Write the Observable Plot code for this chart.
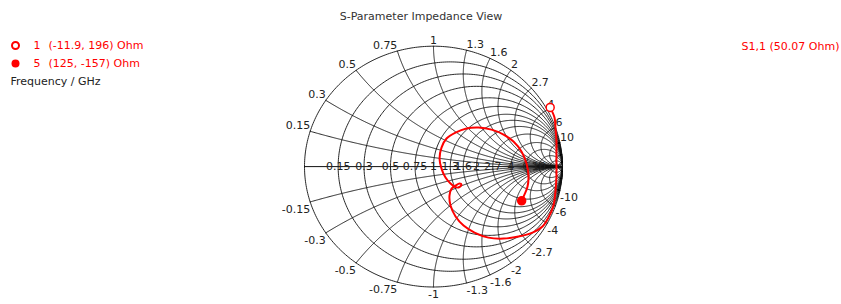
<!DOCTYPE html>
<html><head><meta charset="utf-8">
<script src="https://cdn.jsdelivr.net/npm/d3@7"></script>
<script src="https://cdn.jsdelivr.net/npm/@observablehq/plot@0.6"></script>
<style>body{margin:0;background:#fff} svg{display:block}</style>
</head><body><div id="chart"></div>
<script>
// ---- data ----
const title = "S-Parameter Impedance View";
const traceLabel = "S1,1 (50.07 Ohm)";
const freqLabel = "Frequency / GHz";
const z0 = 50;
const gridValues = [0.15, 0.3, 0.5, 0.75, 1, 1.3, 1.6, 2, 2.7, 4, 6, 10];
const extraGrid = [20, 50];
const traceRe = [0.904,0.938,0.946,0.953,0.953,0.953,0.953,0.946,0.930,0.891,0.845,0.767,0.659,0.543,0.426,0.318,0.233,0.171,0.132,0.124,0.140,0.171,0.202,0.217,0.194,0.163,0.132,0.093,0.062,0.047,0.062,0.101,0.171,0.256,0.349,0.450,0.543,0.620,0.682,0.721,0.736,0.729,0.705,0.683];
const traceIm = [0.492,0.407,0.316,0.216,0.116,0.017,-0.083,-0.199,-0.324,-0.424,-0.498,-0.548,-0.581,-0.598,-0.590,-0.548,-0.490,-0.415,-0.324,-0.241,-0.183,-0.158,-0.141,-0.150,-0.174,-0.166,-0.141,-0.091,-0.017,0.066,0.158,0.233,0.282,0.316,0.324,0.307,0.266,0.208,0.125,0.025,-0.075,-0.166,-0.233,-0.284];
const markerNames = ["1", "5"];
const markerR = [-11.9, 125];
const markerX = [196, -157];
const markerFilled = [false, true];

// ---- derived ----
const red = "#ff0000";
const gridColor = "#111";
const toGamma = (r, x) => { const d = (r + 1) * (r + 1) + x * x; return [(r * r + x * x - 1) / d, 2 * x / d]; };
const trace = traceRe.map((u, i) => ({u, v: traceIm[i]}));
const markers = markerNames.map((n, i) => {
  const [u, v] = toGamma(markerR[i] / z0, markerX[i] / z0);
  return {name: n, u, v, filled: markerFilled[i], text: `(${markerR[i]}, ${markerX[i]}) Ohm`};
});

const grid = [];
[0, ...gridValues, ...extraGrid].forEach((r, k) => {
  const c = r / (r + 1), rho = 1 / (r + 1);
  for (let i = 0; i <= 360; i++) {
    const a = i * Math.PI / 180;
    grid.push({id: "r" + k, u: c + rho * Math.cos(a), v: rho * Math.sin(a)});
  }
});
[...gridValues, ...extraGrid].forEach((x, k) => {
  [1, -1].forEach(s => {
    const N = 300;
    for (let i = 0; i <= N; i++) {
      let p;
      if (i === N) p = [1, 0];
      else p = toGamma(Math.tan(i / N * Math.PI / 2), s * x);
      grid.push({id: "x" + k + "_" + s, u: p[0], v: p[1]});
    }
  });
});

const outerLabels = [];
gridValues.forEach(x => [1, -1].forEach(s => {
  const [u, v] = toGamma(0, s * x);
  outerLabels.push({u, v, t: (s < 0 ? "-" : "") + x, side: u < -0.01 ? "L" : (u > 0.01 ? "R" : "M"), top: s > 0});
}));
const axisLabels = gridValues.map(r => ({u: (r - 1) / (r + 1), v: 0, t: String(r)}));

const txt = "#222";
function outer(side, top) {
  return Plot.text(outerLabels.filter(d => d.side === side && d.top === top), {
    x: "u", y: "v", text: "t", fill: txt,
    textAnchor: side === "L" ? "end" : side === "R" ? "start" : "middle",
    lineAnchor: top ? "bottom" : "top", dy: top ? -2 : 3
  });
}

const chart = Plot.plot({
  width: 841, height: 304, margin: 0,
  x: {domain: [-1, 1], range: [304, 562]},
  y: {domain: [-1, 1], range: [286.5, 45.7]},
  axis: null,
  style: {fontFamily: "DejaVu Sans", fontSize: "11px", background: "white"},
  marks: [
    Plot.line(grid, {x: "u", y: "v", z: "id", stroke: gridColor, strokeWidth: 1, strokeOpacity: 0.9}),
    Plot.ruleY([0], {x1: -1, x2: 1, stroke: gridColor}),
    Plot.text(axisLabels, {x: "u", y: "v", text: "t", fill: txt, lineAnchor: "middle", ariaLabel: "axlab"}),
    outer("L", true), outer("R", true), outer("M", true),
    outer("L", false), outer("R", false), outer("M", false),
    Plot.line(trace, {x: "u", y: "v", stroke: red, strokeWidth: 2, curve: "catmull-rom"}),
    Plot.dot(markers, {x: "u", y: "v", r: 4, stroke: red, strokeWidth: 1.5, fill: d => d.filled ? red : "white"}),
    // title & legends
    Plot.text([title], {frameAnchor: "top", dy: 16, fill: "#333", lineAnchor: "middle"}),
    Plot.text([traceLabel], {frameAnchor: "top-right", dx: -2, dy: 46, fill: red, textAnchor: "end", lineAnchor: "middle"}),
    Plot.dot(markers.slice(0, 1), {frameAnchor: "top-left", dx: 15, dy: 45, r: 3.5, stroke: red, strokeWidth: 2, fill: "white"}),
    Plot.dot(markers.slice(1, 2), {frameAnchor: "top-left", dx: 15, dy: 63, r: 4, fill: red}),
    Plot.text(markers.slice(0, 1), {frameAnchor: "top-left", dx: 33, dy: 45, text: "name", fill: red, textAnchor: "start", lineAnchor: "middle"}),
    Plot.text(markers.slice(0, 1), {frameAnchor: "top-left", dx: 48, dy: 45, text: "text", fill: red, textAnchor: "start", lineAnchor: "middle"}),
    Plot.text(markers.slice(1, 2), {frameAnchor: "top-left", dx: 33, dy: 63, text: "name", fill: red, textAnchor: "start", lineAnchor: "middle"}),
    Plot.text(markers.slice(1, 2), {frameAnchor: "top-left", dx: 48, dy: 63, text: "text", fill: red, textAnchor: "start", lineAnchor: "middle"}),
    Plot.text([freqLabel], {frameAnchor: "top-left", dx: 10, dy: 81, fill: "#222", textAnchor: "start", lineAnchor: "middle"})
  ]
});
document.getElementById("chart").appendChild(chart);
// white boxes behind axis labels (later labels cover earlier ones)
const svgNS = "http://www.w3.org/2000/svg";
document.querySelectorAll('g[aria-label="axlab"] text').forEach(t => {
  const b = t.getBBox();
  const rect = document.createElementNS(svgNS, "rect");
  rect.setAttribute("x", b.x - 0.5); rect.setAttribute("y", b.y + 0.5);
  rect.setAttribute("width", b.width + 1); rect.setAttribute("height", b.height - 1);
  rect.setAttribute("fill", "white"); rect.setAttribute("stroke", "none");
  if (t.getAttribute("transform")) rect.setAttribute("transform", t.getAttribute("transform"));
  t.parentNode.insertBefore(rect, t);
});
</script>
</body></html>
